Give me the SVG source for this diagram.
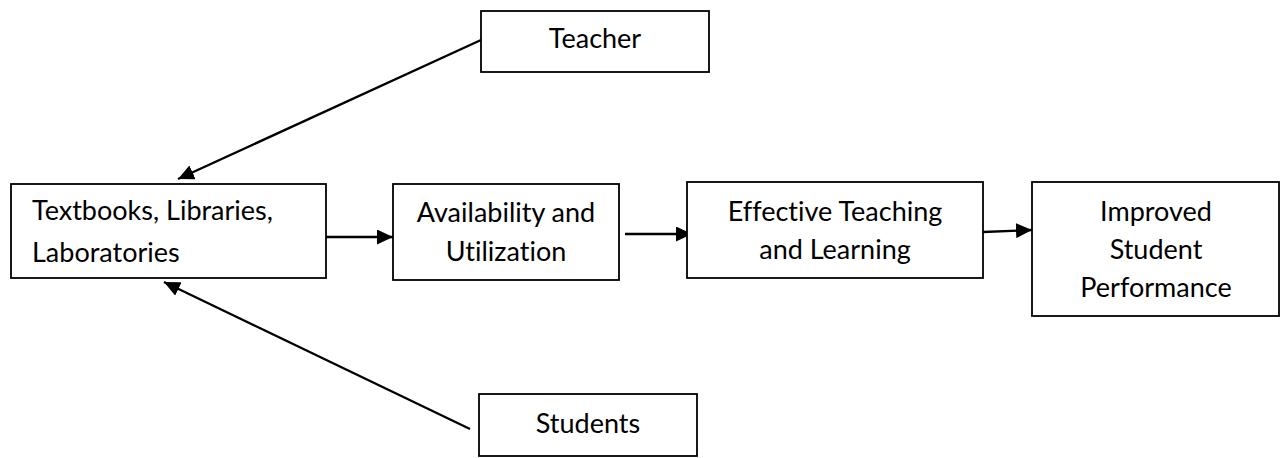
<svg xmlns="http://www.w3.org/2000/svg" width="1284" height="458" viewBox="0 0 1284 458">
  <style>
    .box { fill: #ffffff; stroke: #000000; stroke-width: 1.8; }
    .lbl { font-family: Lato, "Liberation Sans", sans-serif; font-size: 27px; fill: #000000; font-variant-ligatures: none; }
    .mid { text-anchor: middle; }
    .edge { stroke: #000000; stroke-width: 2.3; fill: none; marker-end: url(#head); }
  </style>
  <defs>
    <marker id="head" viewBox="0 0 16 15" refX="16" refY="7.5" markerWidth="16" markerHeight="15" markerUnits="userSpaceOnUse" orient="auto">
      <path d="M0,0 L16,7.5 L0,15 Z" fill="#000000"/>
    </marker>
  </defs>

  <rect width="1284" height="458" fill="#ffffff"/>

  <g id="connectors">
    <line class="edge" x1="481" y1="40" x2="178" y2="179"/>
    <line class="edge" x1="470" y1="429" x2="164" y2="282"/>
    <line class="edge" x1="326" y1="237" x2="393" y2="237"/>
    <line class="edge" x1="625" y1="234" x2="692" y2="234"/>
    <line class="edge" x1="983" y1="232" x2="1032" y2="230"/>
  </g>

  <g id="teacher">
    <rect class="box" x="481" y="11" width="228" height="61"/>
    <text class="lbl mid" x="595" y="48">Teacher</text>
  </g>

  <g id="resources">
    <rect class="box" x="11" y="184" width="315" height="94"/>
    <text class="lbl" x="32" y="220">Textbooks, Libraries,</text>
    <text class="lbl" x="32" y="262">Laboratories</text>
  </g>

  <g id="availability">
    <rect class="box" x="393" y="184" width="226" height="96"/>
    <text class="lbl mid" x="506" y="222">Availability and</text>
    <text class="lbl mid" x="506" y="261">Utilization</text>
  </g>

  <g id="teaching">
    <rect class="box" x="687" y="182" width="296" height="96"/>
    <text class="lbl mid" x="835" y="221">Effective Teaching</text>
    <text class="lbl mid" x="835" y="259">and Learning</text>
  </g>

  <g id="performance">
    <rect class="box" x="1032" y="182" width="247" height="134"/>
    <text class="lbl mid" x="1156" y="221">Improved</text>
    <text class="lbl mid" x="1156" y="259">Student</text>
    <text class="lbl mid" x="1156" y="297">Performance</text>
  </g>

  <g id="students">
    <rect class="box" x="479" y="394" width="218" height="62"/>
    <text class="lbl mid" x="588" y="433">Students</text>
  </g>
</svg>
